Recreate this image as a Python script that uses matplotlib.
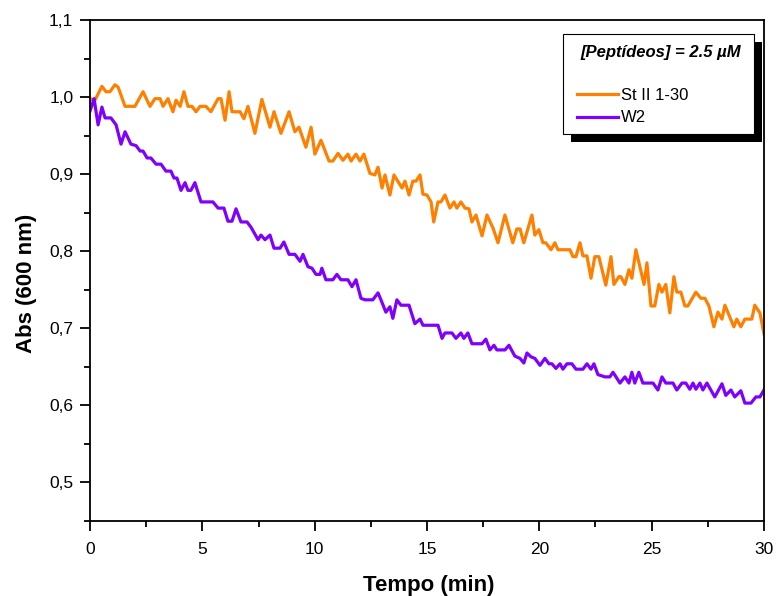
import matplotlib
matplotlib.use("Agg")
import matplotlib.pyplot as plt
from matplotlib.patches import Rectangle
from matplotlib.ticker import MultipleLocator, FuncFormatter

plt.rcParams['font.family'] = ['Liberation Sans', 'DejaVu Sans']

# St II 1-30 (orange)
t_st = [0.0, 0.22, 0.53, 0.71, 0.89, 1.11, 1.25, 1.56, 2.00, 2.36, 2.67, 2.89, 3.12, 3.25,
        3.47, 3.69, 3.83, 4.01, 4.18, 4.36, 4.54, 4.72, 4.90, 5.16, 5.38, 5.70, 5.83, 6.01,
        6.19, 6.32, 6.68, 6.85, 7.03, 7.34, 7.65, 8.01, 8.19, 8.50, 8.86, 9.12, 9.30, 9.61,
        9.84, 10.01, 10.28, 10.64, 10.81, 11.04, 11.26, 11.48, 11.62, 11.84, 12.02, 12.19,
        12.46, 12.68, 12.82, 13.00, 13.13, 13.35, 13.53, 13.89, 14.02, 14.20, 14.37, 14.51,
        14.69, 14.82, 15.00, 15.18, 15.30, 15.49, 15.62, 15.80, 16.02, 16.20, 16.33, 16.51,
        16.69, 16.87, 17.00, 17.18, 17.45, 17.67, 17.94, 18.16, 18.47, 18.82, 19.00, 19.14,
        19.31, 19.67, 19.80, 19.98, 20.16, 20.29, 20.52, 20.69, 20.83, 21.36, 21.50, 21.63,
        21.81, 21.94, 22.12, 22.30, 22.47, 22.65, 22.96, 23.19, 23.32, 23.54, 23.63, 23.81,
        23.99, 24.12, 24.30, 24.66, 24.79, 24.97, 25.14, 25.32, 25.46, 25.63, 25.81, 25.99,
        26.12, 26.30, 26.48, 26.61, 26.97, 27.19, 27.37, 27.55, 27.77, 27.95, 28.13, 28.26,
        28.66, 28.79, 28.97, 29.15, 29.46, 29.59, 29.82, 30.0]
abs_st = [0.998, 0.996, 1.014, 1.007, 1.007, 1.016, 1.013, 0.988, 0.988, 1.007, 0.988, 0.998,
          0.998, 0.988, 0.998, 0.981, 0.996, 0.988, 1.007, 0.988, 0.988, 0.981, 0.988, 0.988,
          0.981, 0.998, 0.998, 0.970, 1.007, 0.981, 0.981, 0.972, 0.988, 0.953, 0.997, 0.961,
          0.981, 0.953, 0.981, 0.955, 0.961, 0.935, 0.961, 0.926, 0.944, 0.917, 0.917, 0.927,
          0.918, 0.926, 0.917, 0.926, 0.917, 0.926, 0.901, 0.899, 0.909, 0.882, 0.899, 0.873,
          0.899, 0.882, 0.891, 0.873, 0.891, 0.891, 0.899, 0.874, 0.873, 0.864, 0.838, 0.864,
          0.864, 0.873, 0.856, 0.864, 0.856, 0.864, 0.856, 0.855, 0.838, 0.847, 0.820, 0.847,
          0.830, 0.811, 0.847, 0.811, 0.829, 0.829, 0.811, 0.847, 0.821, 0.828, 0.811, 0.811,
          0.802, 0.811, 0.802, 0.802, 0.793, 0.793, 0.811, 0.794, 0.794, 0.765, 0.793, 0.793,
          0.756, 0.793, 0.757, 0.767, 0.767, 0.757, 0.776, 0.765, 0.802, 0.757, 0.785, 0.729,
          0.729, 0.757, 0.747, 0.757, 0.720, 0.767, 0.747, 0.747, 0.729, 0.729, 0.747, 0.739,
          0.739, 0.729, 0.702, 0.721, 0.712, 0.730, 0.702, 0.712, 0.702, 0.712, 0.712, 0.730,
          0.720, 0.693]

# W2 (purple)
t_w2 = [0.0, 0.18, 0.36, 0.53, 0.67, 0.93, 1.16, 1.38, 1.56, 1.82, 2.05, 2.23, 2.36, 2.54,
        2.71, 2.94, 3.16, 3.38, 3.60, 3.74, 3.87, 4.05, 4.23, 4.36, 4.49, 4.67, 4.94, 5.47,
        5.70, 5.96, 6.14, 6.32, 6.50, 6.72, 6.99, 7.17, 7.48, 7.61, 7.79, 8.01, 8.19, 8.46,
        8.63, 8.86, 9.12, 9.35, 9.48, 9.70, 9.88, 10.06, 10.24, 10.32, 10.50, 10.81, 10.99,
        11.17, 11.48, 11.66, 11.84, 12.06, 12.24, 12.59, 12.82, 12.95, 13.17, 13.35, 13.48,
        13.66, 13.84, 14.20, 14.46, 14.69, 14.82, 15.49, 15.67, 15.80, 16.11, 16.29, 16.51,
        16.64, 16.82, 17.00, 17.45, 17.62, 17.80, 17.98, 18.11, 18.47, 18.65, 18.91, 19.14,
        19.31, 19.45, 19.63, 19.80, 20.03, 20.25, 20.43, 20.56, 20.74, 20.92, 21.05, 21.23,
        21.45, 21.63, 21.94, 22.12, 22.30, 22.43, 22.61, 22.92, 23.14, 23.28, 23.59, 23.81,
        23.99, 24.12, 24.25, 24.43, 24.61, 25.06, 25.28, 25.46, 25.63, 25.95, 26.12, 26.35,
        26.52, 26.70, 26.84, 26.97, 27.15, 27.28, 27.46, 27.81, 28.13, 28.30, 28.53, 28.70,
        28.97, 29.15, 29.42, 29.64, 29.82, 30.0]
abs_w2 = [0.982, 0.998, 0.964, 0.987, 0.973, 0.973, 0.964, 0.939, 0.955, 0.939, 0.937, 0.930,
          0.930, 0.921, 0.921, 0.913, 0.913, 0.904, 0.904, 0.895, 0.895, 0.879, 0.889, 0.879,
          0.879, 0.889, 0.864, 0.864, 0.856, 0.856, 0.839, 0.839, 0.855, 0.838, 0.838, 0.831,
          0.815, 0.821, 0.815, 0.821, 0.804, 0.804, 0.812, 0.796, 0.796, 0.787, 0.796, 0.780,
          0.778, 0.770, 0.770, 0.778, 0.763, 0.763, 0.770, 0.763, 0.763, 0.754, 0.763, 0.739,
          0.737, 0.737, 0.746, 0.737, 0.721, 0.728, 0.713, 0.737, 0.730, 0.730, 0.706, 0.712,
          0.704, 0.704, 0.687, 0.694, 0.694, 0.687, 0.694, 0.687, 0.694, 0.680, 0.680, 0.686,
          0.672, 0.678, 0.672, 0.672, 0.678, 0.664, 0.661, 0.655, 0.668, 0.663, 0.661, 0.652,
          0.661, 0.654, 0.654, 0.648, 0.654, 0.647, 0.654, 0.654, 0.647, 0.647, 0.654, 0.647,
          0.654, 0.640, 0.637, 0.637, 0.643, 0.629, 0.637, 0.629, 0.643, 0.629, 0.643, 0.629,
          0.629, 0.620, 0.637, 0.629, 0.629, 0.620, 0.629, 0.629, 0.621, 0.629, 0.621, 0.629,
          0.620, 0.629, 0.611, 0.628, 0.613, 0.620, 0.611, 0.619, 0.603, 0.603, 0.611, 0.611,
          0.620]

labels = ["St II 1-30", "W2"]
colors = ["#FF8000", "#8000FF"]

fig = plt.figure(figsize=(7.76, 5.96), dpi=100)
ax = fig.add_axes([0.116, 0.1258, 0.8685, 0.8406])

ax.plot(t_st, abs_st, color=colors[0], lw=2.3, label=labels[0])
ax.plot(t_w2, abs_w2, color=colors[1], lw=2.3, label=labels[1])

ax.set_xlim(0, 30)
ax.set_ylim(0.45, 1.1)
ax.xaxis.set_major_locator(MultipleLocator(5))
ax.xaxis.set_minor_locator(MultipleLocator(2.5))
ax.yaxis.set_major_locator(MultipleLocator(0.1))
ax.yaxis.set_minor_locator(MultipleLocator(0.05))
ax.yaxis.set_major_formatter(FuncFormatter(lambda v, p: f"{v:.1f}".replace(".", ",")))
ax.xaxis.set_major_formatter(FuncFormatter(lambda v, p: f"{v:.0f}"))

for s in ax.spines.values():
    s.set_linewidth(1.3)
ax.tick_params(which="both", direction="out", width=1.3, labelsize=12.5, top=False, right=False)
ax.tick_params(which="major", length=7, pad=5)
ax.tick_params(axis="x", which="major", pad=8)
ax.tick_params(which="minor", length=4)

ax.set_xlabel("Tempo (min)", fontsize=16, fontweight="bold")
ax.set_ylabel("Abs (600 nm)", fontsize=16, fontweight="bold")
ax.xaxis.set_label_coords(0.503, -0.108)
ax.yaxis.set_label_coords(-0.079, 0.475)

# legend box with hard black shadow
fig.patches.append(Rectangle((571 / 776, 1 - 142 / 596), 191 / 776, 100 / 596,
                             transform=fig.transFigure, facecolor="black", edgecolor="none", zorder=5))
fig.patches.append(Rectangle((563 / 776, 1 - 134 / 596), 191 / 776, 100 / 596,
                             transform=fig.transFigure, facecolor="white", edgecolor="black",
                             lw=0.8, zorder=6))
fig.text(661 / 776, 1 - 53 / 596, "[Peptídeos] = 2.5 µM", ha="center", va="center",
         fontsize=12, fontweight="bold", fontstyle="italic", zorder=7)
handles, _ = ax.get_legend_handles_labels()
leg = fig.legend(handles, labels, loc="upper left", bbox_to_anchor=(577 / 776, 1 - 88 / 596),
                 bbox_transform=fig.transFigure, frameon=False, fontsize=12,
                 handlelength=2.45, handletextpad=0.2, labelspacing=0.45, borderpad=0,
                 borderaxespad=0)
leg.set_zorder(8)

fig.savefig("out.png", dpi=100)
